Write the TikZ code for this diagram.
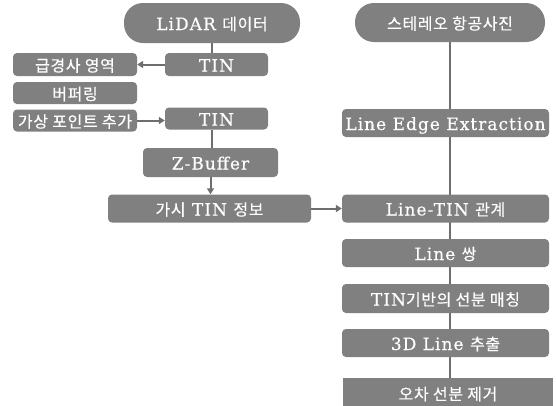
\documentclass[tikz,border=0pt]{standalone}
\usepackage{fontspec}
\setmainfont{DejaVu Serif}[LetterSpace=6,FakeBold=0.4]
\newfontfamily\krfont{Noto Sans CJK KR}[LetterSpace=4,FakeBold=0.4]
\newcommand\kt[1]{{\krfont\fontsize{16}{18}\selectfont #1}}
\usetikzlibrary{arrows.meta,backgrounds}
\definecolor{boxgray}{HTML}{808080}
\definecolor{linegray}{HTML}{6E6E6E}
\begin{document}
\begin{tikzpicture}[x=1pt,y=-1pt,
  box/.style={fill=boxgray, rounded corners=4pt, text=white, inner sep=0pt,
    font=\fontsize{17}{18}\selectfont, text height=15pt, text depth=1pt, align=center},
  capsule/.style={box, rounded corners=19pt},
  conn/.style={draw=linegray, line width=2pt},
  arr/.style={conn, -{Triangle[length=6pt,width=7pt]}}
]
\useasboundingbox (0,0) rectangle (556,405);
% left column
\node[capsule, minimum width=176pt, minimum height=40pt] (lidar) at (212,23) {LiDAR \kt{데이터}};
\node[box, minimum width=103pt, minimum height=23pt] (tin1) at (216.5,64.5) {TIN};
\node[box, minimum width=124pt, minimum height=23pt] (steep) at (75,64.5) {\kt{급경사 영역}};
\node[box, minimum width=124pt, minimum height=22pt] (buffer) at (75,93) {\kt{버퍼링}};
\node[box, minimum width=124pt, minimum height=22pt] (virt) at (75,120.5) {\kt{가상 포인트 추가}};
\node[box, minimum width=103pt, minimum height=22pt] (tin2) at (216.5,118.5) {TIN};
\node[box, minimum width=135pt, minimum height=29pt] (zbuf) at (210.5,162.5) {Z-Buffer};
\node[box, minimum width=203pt, minimum height=28pt] (vis) at (209.5,208.5) {\kt{가시} TIN \kt{정보}};
% right column
\node[capsule, minimum width=190pt, minimum height=39pt] (stereo) at (450,22.5) {\kt{스테레오 항공사진}};
\node[box, minimum width=207pt, minimum height=28pt] (lee) at (445.5,123) {Line Edge Extraction};
\node[box, minimum width=207pt, minimum height=28pt] (ltin) at (445.5,208.5) {Line-TIN \kt{관계}};
\node[box, minimum width=207pt, minimum height=28pt] (lpair) at (445.5,253) {Line \kt{쌍}};
\node[box, minimum width=207pt, minimum height=29pt] (match) at (445.5,298.5) {TIN\kt{기반의 선분 매칭}};
\node[box, minimum width=207pt, minimum height=28pt] (l3d) at (445.5,343) {3D Line \kt{추출}};
\node[box, rounded corners=0pt, minimum width=210pt, minimum height=30pt] (err) at (448,393) {\kt{오차 선분 제거}};
% connectors
\begin{scope}[on background layer]
\draw[conn] (lidar.south) -- (lidar.south |- tin1.north);
\draw[conn] (lidar |- tin2.south) -- (lidar |- zbuf.north);
\draw[conn] (stereo.south) -- (stereo.south |- err.north);
\end{scope}
\draw[arr] (tin1.west) -- (steep.east);
\draw[arr] (virt.east) -- (virt.east -| tin2.west);
\draw[arr] (zbuf.south) -- (zbuf.south |- vis.north);
\draw[arr] (vis.east) -- (ltin.west);
\end{tikzpicture}
\end{document}
